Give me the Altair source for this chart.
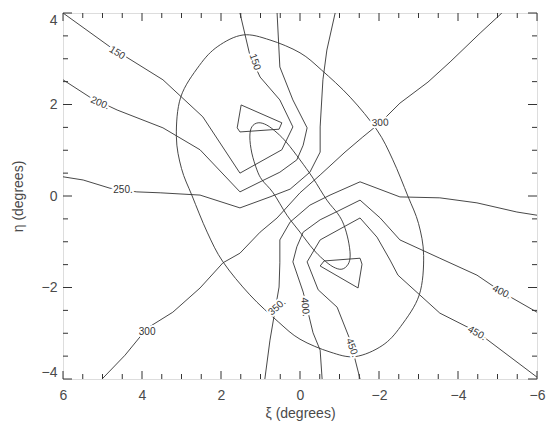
import altair as alt
import pandas as pd

# ---- contour polylines (xi, eta in degrees) ----
c150_xi = [6.00, 4.81, 3.47, 2.46, 1.52, 0.46, 0.18, 0.51, 1.01, 1.27, 1.52]
c150_eta = [4.00, 3.26, 2.54, 1.73, 0.50, 1.01, 1.51, 2.10, 2.60, 3.08, 4.00]

c200_xi = [6.00, 5.32, 4.63, 3.47, 2.53, 1.52, 0.96, 0.51, 0.08, -0.08, -0.18, 0.18, 0.51, 0.58]
c200_eta = [2.54, 2.16, 1.88, 1.49, 1.01, 0.09, 0.33, 0.52, 0.79, 1.11, 1.49, 2.10, 2.82, 4.00]

c250_xi = [6.00, 5.49, 4.81, 4.13, 3.54, 2.53, 1.52, 0.76, 0.25, -0.25, -0.51, -0.51, -0.58, -0.68, -0.89]
c250_eta = [0.42, 0.35, 0.17, 0.09, 0.07, 0.02, -0.26, -0.02, 0.15, 0.52, 0.96, 1.51, 2.54, 3.19, 4.00]

c300_xi = [5.01, 4.43, 3.87, 3.22, 2.53, 1.95, 1.52, 1.01, 0.58, 0.00, -0.51, -1.14, -1.59, -2.03, -2.53, -3.24, -3.80, -4.56, -5.11]
c300_eta = [-4.00, -3.48, -2.89, -2.54, -2.01, -1.46, -1.25, -0.79, -0.48, 0.07, 0.46, 0.96, 1.29, 1.60, 2.03, 2.49, 2.93, 3.56, 4.00]

c350_xi = [-6.00, -5.49, -4.48, -3.54, -2.53, -1.52, -0.76, -0.25, 0.25, 0.51, 0.51, 0.53, 0.63, 0.76, 0.89]
c350_eta = [-0.42, -0.35, -0.15, -0.04, -0.02, 0.31, 0.02, -0.20, -0.57, -0.96, -1.46, -1.99, -2.49, -3.15, -4.00]

c400_xi = [-6.00, -5.11, -4.48, -3.54, -2.53, -2.03, -1.52, -0.96, -0.51, -0.08, 0.08, 0.18, -0.08, -0.33, -0.51, -0.56]
c400_eta = [-2.54, -2.10, -1.73, -1.36, -0.96, -0.48, -0.09, -0.33, -0.52, -0.79, -1.11, -1.44, -2.10, -2.99, -3.37, -4.00]

c450_xi = [-6.00, -4.48, -3.54, -2.48, -2.28, -1.95, -1.52, -0.51, -0.18, -0.46, -0.94, -1.27, -1.52]
c450_eta = [-3.96, -2.97, -2.56, -1.73, -1.40, -0.90, -0.48, -0.96, -1.44, -2.05, -2.43, -3.15, -4.00]

# small closed contours around the two extremes
qa_xi = [1.49, 0.46, 0.53, 1.52, 1.59]
qa_eta = [1.99, 1.60, 1.46, 1.40, 1.49]
qb_xi = [-1.47, -0.51, -0.61, -1.52, -1.57]
qb_eta = [-2.01, -1.53, -1.42, -1.36, -1.49]

# elongated central loop
loop_xi = [1.22, 1.06, 0.84, 0.58, 0.33, 0.00, -0.33, -0.68, -0.96, -1.11, -1.22, -1.27,
           -1.22, -1.06, -0.84, -0.58, -0.33, 0.00, 0.33, 0.68, 0.96, 1.09, 1.22, 1.27]
loop_eta = [1.51, 1.60, 1.55, 1.38, 1.16, 0.79, 0.39, -0.09, -0.39, -0.63, -0.96, -1.29,
            -1.49, -1.60, -1.55, -1.38, -1.16, -0.79, -0.42, 0.07, 0.35, 0.57, 0.94, 1.29]

# ellipse outline
ell_xi = [3.13, 3.02, 2.55, 2.08, 1.44, 0.76, 0.00, -0.55, -1.27, -1.95, -2.35, -2.73, -3.00,
          -3.13, -3.02, -2.55, -2.08, -1.40, -0.76, 0.00, 0.55, 1.27, 1.95, 2.35, 2.73, 3.00]
ell_eta = [1.30, 2.16, 2.85, 3.27, 3.52, 3.41, 3.13, 2.75, 2.16, 1.44, 0.79, 0.00, -0.60,
           -1.30, -2.16, -2.85, -3.27, -3.51, -3.41, -3.13, -2.75, -2.16, -1.44, -0.79, 0.00, 0.60]

# contour labels
lab_text = ["150", "150", "200.", "250.", "300", "300", "350.", "400.", "450.", "400.", "450."]
lab_xi = [4.63, 1.14, 5.06, 4.48, 3.87, -2.03, 0.58, -0.13, -1.32, -5.11, -4.48]
lab_eta = [3.13, 2.93, 2.03, 0.13, -2.97, 1.60, -2.43, -2.43, -3.32, -2.10, -3.00]
lab_angle = [34, 68, 26, 6, 318, 315, 282, 80, 66, 28, 32]

# axis ticks
x_major = [6, 4, 2, 0, -2, -4, -6]
x_minor = [5.5, 5, 4.5, 3.5, 3, 2.5, 1.5, 1, 0.5, -0.5, -1, -1.5, -2.5, -3, -3.5, -4.5, -5, -5.5]
y_major = [4, 2, 0, -2, -4]
y_minor = [3.5, 3, 2.5, 1.5, 1, 0.5, -0.5, -1, -1.5, -2.5, -3, -3.5]

# ---- build tables ----
def poly(name, xs, ys):
    return pd.DataFrame({"xi": xs, "eta": ys, "line": name, "k": range(len(xs))})

open_df = pd.concat([
    poly("150", c150_xi, c150_eta), poly("200", c200_xi, c200_eta),
    poly("250", c250_xi, c250_eta), poly("300", c300_xi, c300_eta),
    poly("350", c350_xi, c350_eta), poly("400", c400_xi, c400_eta),
    poly("450", c450_xi, c450_eta)], ignore_index=True)
quad_df = pd.concat([poly("qa", qa_xi, qa_eta), poly("qb", qb_xi, qb_eta)], ignore_index=True)
loop_df = poly("loop", loop_xi, loop_eta)
ell_df = poly("ellipse", ell_xi, ell_eta)
lab_df = pd.DataFrame({"xi": lab_xi, "eta": lab_eta, "t": lab_text, "a": lab_angle})

xs = alt.Scale(domain=[-6, 6], reverse=True, nice=False, zero=False)
ys = alt.Scale(domain=[-4, 4], nice=False, zero=False)
LABEL_FONT = "Liberation Sans"
TXT = "#4a4a4a"
xaxis = alt.Axis(values=x_major, format="d", ticks=False, domain=False, grid=False,
                 labelFlush=False, labelPadding=9, labelFontSize=14, labelColor=TXT,
                 labelFont=LABEL_FONT, title="ξ (degrees)", titleFontSize=14,
                 titleFontWeight="normal", titleColor=TXT, titleFont=LABEL_FONT,
                 titlePadding=4)
yaxis = alt.Axis(values=y_major, format="d", ticks=False, domain=False, grid=False,
                 labelFlush=True, labelPadding=6, labelFontSize=14, labelColor=TXT,
                 labelFont=LABEL_FONT, title="η (degrees)", titleFontSize=14,
                 titleFontWeight="normal", titleColor=TXT, titleFont=LABEL_FONT,
                 titlePadding=16)

X = alt.X("xi:Q", scale=xs, axis=xaxis)
Y = alt.Y("eta:Q", scale=ys, axis=yaxis)
LC = "#333333"
SW = 0.9

open_lines = alt.Chart(open_df).mark_line(color=LC, strokeWidth=SW, clip=True).encode(
    x=X, y=Y, detail="line:N", order="k:Q")
quads = alt.Chart(quad_df).mark_line(color=LC, strokeWidth=SW, interpolate="linear-closed").encode(
    x=X, y=Y, detail="line:N", order="k:Q")
loop = alt.Chart(loop_df).mark_line(color=LC, strokeWidth=SW, interpolate="cardinal-closed").encode(
    x=X, y=Y, order="k:Q")
ellipse = alt.Chart(ell_df).mark_line(color=LC, strokeWidth=SW, interpolate="cardinal-closed").encode(
    x=X, y=Y, order="k:Q")

halo = alt.Chart(lab_df).mark_text(font=LABEL_FONT, fontSize=10, stroke="white", strokeWidth=4,
                                   color="white").encode(x=X, y=Y, text="t:N", angle="a:Q")
labels = alt.Chart(lab_df).mark_text(font=LABEL_FONT, fontSize=10, color="#333").encode(
    x=X, y=Y, text="t:N", angle="a:Q")

xmaj = pd.DataFrame({"xi": x_major})
xmin = pd.DataFrame({"xi": x_minor})
ymaj = pd.DataFrame({"eta": y_major})
ymin = pd.DataFrame({"eta": y_minor})
TC = "#333"

def xticks(df, ln):
    bot = alt.Chart(df).mark_rule(color=TC, strokeWidth=1, y2Offset=-ln).encode(
        x=X, y=alt.datum(-4, scale=ys), y2=alt.datum(-4))
    top = alt.Chart(df).mark_rule(color=TC, strokeWidth=1, y2Offset=ln).encode(
        x=X, y=alt.datum(4, scale=ys), y2=alt.datum(4))
    return [bot, top]

def yticks(df, ln):
    left = alt.Chart(df).mark_rule(color=TC, strokeWidth=1, x2Offset=ln).encode(
        y=Y, x=alt.datum(6, scale=xs), x2=alt.datum(6))
    right = alt.Chart(df).mark_rule(color=TC, strokeWidth=1, x2Offset=-ln).encode(
        y=Y, x=alt.datum(-6, scale=xs), x2=alt.datum(-6))
    return [left, right]

layers = [open_lines, quads, loop, ellipse, halo, labels]
layers += xticks(xmaj, 8) + xticks(xmin, 5) + yticks(ymaj, 9) + yticks(ymin, 5)

chart = alt.layer(*layers).properties(
    width=474, height=366,
    autosize=alt.AutoSizeParams(type="none"),
    padding={"left": 55, "top": 5, "right": 15, "bottom": 45},
).configure_view(stroke="#333", strokeWidth=1.2).configure(background="white")

chart.save("out.html", embed_options={"renderer": "svg", "actions": False})
